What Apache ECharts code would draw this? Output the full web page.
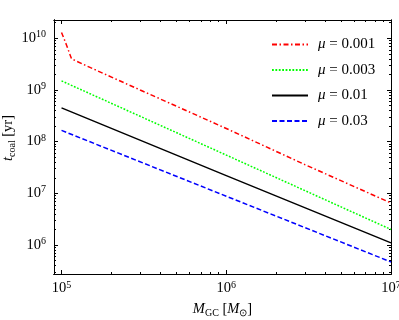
<!DOCTYPE html>
<html><head><meta charset="utf-8">
<script src="https://cdn.jsdelivr.net/npm/echarts@6/dist/echarts.min.js"></script>
<style>html,body{margin:0;padding:0;background:#fff}#c{width:399px;height:320px}</style>
</head><body><div id="c"></div>
<script>
// ---- data ----
const seriesNames = ['μ = 0.001', 'μ = 0.003', 'μ = 0.01', 'μ = 0.03'];
const massRed = [1e5, 1.07e5, 1.15e5, 1.5e5, 3e5, 1e6, 3e6, 1e7];
const tRed    = [1.3e10, 7.5e9, 4.0e9, 2.7e9, 1.0e9, 1.8e8, 3.6e7, 6.5e6];
const massOther = [1e5, 1e6, 1e7];
const tGreen = [1.5e9, 5.5e7, 2.0e6];
const tBlack = [4.5e8, 2.2e7, 1.1e6];
const tBlue  = [1.65e8, 8.8e6, 4.7e5];
const xMajor = [1e5, 1e6, 1e7];
const yMajor = [1e6, 1e7, 1e8, 1e9, 1e10];
const xRange = [9e4, 1e7];
const yRange = [2.75e5, 2.26e10];

const FONT = "'Liberation Serif','Times New Roman',serif";
const FS = 14.5, FSS = 10;
function minorsLog(range) {
  const out = [];
  for (let e = -1; e <= 12; e++) {
    for (let k = 2; k <= 9; k++) {
      const v = k * Math.pow(10, e);
      if (v > range[0] && v < range[1]) out.push(Math.log10(v));
    }
  }
  return out;
}
const powFmt = v => '{b|10}{s|' + Math.round(Math.log10(v)) + '}';
const powRich = {
  b: {fontSize: FS, fontFamily: FONT, color: '#000'},
  s: {fontSize: FSS, fontFamily: FONT, color: '#000', verticalAlign: 'bottom', padding: [0, 0, 7, 0]}
};
const lineCol = {color: '#000', width: 1};
function mainAxis(range, majors, pos, margin, extra) {
  return Object.assign({
    type: 'log', logBase: 10, min: range[0], max: range[1], position: pos,
    axisLine: {show: true, onZero: false, lineStyle: lineCol},
    axisTick: {show: false},
    axisLabel: {show: true, customValues: majors, formatter: powFmt, rich: powRich, margin},
    splitLine: {show: false}, minorTick: {show: false}
  }, extra || {});
}
function tickAxis(range, vals, pos, len) {
  return {
    type: 'value', min: Math.log10(range[0]), max: Math.log10(range[1]), position: pos,
    axisLine: {show: true, onZero: false, lineStyle: lineCol},
    axisTick: {show: true, inside: true, length: len, customValues: vals, lineStyle: lineCol},
    axisLabel: {show: false}, splitLine: {show: false}
  };
}
const chart = echarts.init(document.getElementById('c'), null, {renderer: 'canvas'});
const lineSeries = (name, xs, ys, color, type) => ({
  name, type: 'line', xAxisIndex: 0, yAxisIndex: 0, symbol: 'none', smooth: false,
  data: xs.map((x, i) => [x, ys[i]]),
  lineStyle: {color, width: 1.5, type}, itemStyle: {color}
});
const subRich = {
  i: {fontStyle: 'italic', fontFamily: FONT, fontSize: FS},
  sub: {fontFamily: FONT, fontSize: FSS, verticalAlign: 'top', padding: [7, 0, 0, 0]}
};
const xMajLog = xMajor.map(Math.log10), yMajLog = yMajor.map(Math.log10);
chart.setOption({
  animation: false,
  backgroundColor: '#fff',
  grid: {left: 54, top: 20, right: 8, bottom: 46, containLabel: false, outerBoundsMode: 'none'},
  xAxis: [
    mainAxis(xRange, xMajor, 'bottom', 6, {
      name: '{i|M}{sub|GC} [{i|M}{sub|⊙}]', nameLocation: 'middle', nameGap: 27,
      nameTextStyle: {fontFamily: FONT, fontSize: FS, color: '#000', rich: subRich}
    }),
    tickAxis(xRange, xMajLog, 'bottom', 4),
    tickAxis(xRange, minorsLog(xRange), 'bottom', 2),
    tickAxis(xRange, xMajLog, 'top', 4),
    tickAxis(xRange, minorsLog(xRange), 'top', 2)
  ],
  yAxis: [
    mainAxis(yRange, yMajor, 'left', 8, {
      name: '{i|t}{sub|coal} [yr]', nameLocation: 'middle', nameGap: 37, nameRotate: 90,
      nameMoveOverlap: false,
      nameTextStyle: {fontFamily: FONT, fontSize: FS, color: '#000', rich: subRich, padding: [0, 0, 0, 18]}
    }),
    tickAxis(yRange, yMajLog, 'left', 4),
    tickAxis(yRange, minorsLog(yRange), 'left', 2),
    tickAxis(yRange, yMajLog, 'right', 4),
    tickAxis(yRange, minorsLog(yRange), 'right', 2)
  ],
  legend: {
    data: seriesNames, orient: 'vertical', left: 266, top: 32,
    itemWidth: 36, itemHeight: 14, itemGap: 10.5,
    itemStyle: {opacity: 0},
    formatter: n => '{i|μ} = ' + n.split('= ')[1],
    textStyle: {fontFamily: FONT, fontSize: 15, color: '#000', padding: [0, 0, 0, 5],
      rich: {i: {fontStyle: 'italic', fontFamily: FONT, fontSize: 15}}}
  },
  series: [
    lineSeries(seriesNames[0], massRed, tRed, '#ff0000', [5, 2.5, 1.5, 2.5]),
    lineSeries(seriesNames[1], massOther, tGreen, '#00ff00', [1.8, 1.6]),
    lineSeries(seriesNames[2], massOther, tBlack, '#000000', 'solid'),
    lineSeries(seriesNames[3], massOther, tBlue, '#0000ff', [5, 2.5])
  ]
});
</script></body></html>
